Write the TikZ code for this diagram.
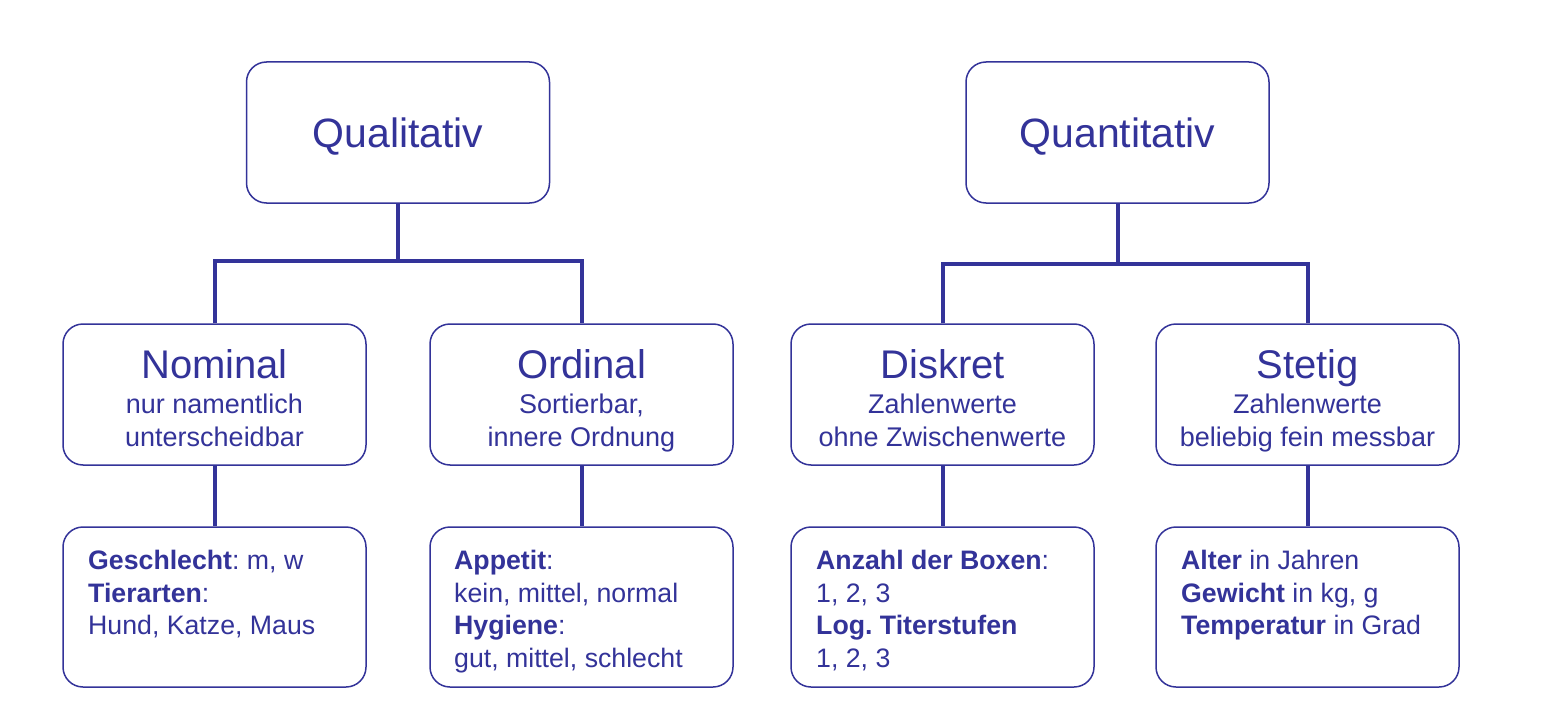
\documentclass[tikz,border=0pt]{standalone}
\usepackage{fontspec}
\setmainfont{Liberation Sans}
\frenchspacing
\definecolor{dc}{HTML}{333399}
\begin{document}
\begin{tikzpicture}[x=1pt,y=-1pt,
  box/.style={draw=dc, line width=1.5pt, rounded corners=20pt, minimum width=303pt, inner sep=0pt, text=dc, fill=white},
  topbox/.style={box, minimum height=141pt},
  midbox/.style={box, minimum height=141pt},
  midtext/.style={inner sep=0pt, align=center, text=dc, font=\fontsize{27}{32.5}\selectfont},
  exbox/.style={box, minimum height=160pt},
  extext/.style={anchor=north west, inner sep=0pt, align=left, text=dc, font=\fontsize{26.7}{32.5}\selectfont},
  conn/.style={draw=dc, line width=4pt},
  big/.style={font=\fontsize{41}{48}\selectfont}]
\useasboundingbox[fill=white] (0,0) rectangle (1559,717);

\node[topbox] (qual) at (398,132.5) {};
\node[topbox] (quan) at (1117.5,132.5) {};
\node[big, text=dc, inner sep=0pt, anchor=base] (qualt) at (398,147.5) {Qualitativ};
\node[big, text=dc, inner sep=0pt, anchor=base] (quant) at (1117.5,147.5) {Quantitativ};

\node[midbox] (nom) at (214.5,394.5) {};
\node[midbox] (ord) at (581.5,394.5) {};
\node[midbox] (dis) at (942.5,394.5) {};
\node[midbox] (ste) at (1307.5,394.5) {};

\node[midtext, anchor=north] (nomt) at (214.5,349) {{\fontsize{40}{34}\selectfont Nominal}\\[3pt] nur namentlich\\ unterscheidbar};
\node[midtext, anchor=north] (ordt) at (581.5,349) {{\fontsize{40}{34}\selectfont Ordinal}\\[3pt] Sortierbar,\\ innere Ordnung};
\node[midtext, anchor=north] (dist) at (942.5,349) {{\fontsize{40}{34}\selectfont Diskret}\\[3pt] Zahlenwerte\\ ohne Zwischenwerte};
\node[midtext, anchor=north] (stet) at (1307.5,349) {{\fontsize{40}{34}\selectfont Stetig}\\[3pt] Zahlenwerte\\ beliebig fein messbar};

\node[exbox] (nomex) at (214.5,607) {};
\node[exbox] (ordex) at (581.5,607) {};
\node[exbox] (disex) at (942.5,607) {};
\node[exbox] (steex) at (1307.5,607) {};

\node[extext] (nomx) at (88,550) {\textbf{Geschlecht}: m, w\\ \textbf{Tierarten}:\\ Hund, Katze, Maus};
\node[extext] (ordx) at (454,550) {\textbf{Appetit}:\\ kein, mittel, normal\\ \textbf{Hygiene}:\\ gut, mittel, schlecht};
\node[extext] (disx) at (816,550) {\textbf{Anzahl der Boxen}:\\ 1, 2, 3\\ \textbf{Log. Titerstufen}\\ 1, 2, 3};
\node[extext] (stex) at (1181,550) {\textbf{Alter} in Jahren\\ \textbf{Gewicht} in kg, g\\ \textbf{Temperatur} in Grad};

\draw[conn] (qual.south) -- ++(0,59);
\draw[conn] (nom.north) -- ++(0,-62) -| (ord.north);
\draw[conn] (quan.south) -- ++(0,62);
\draw[conn] (dis.north) -- ++(0,-59) -| (ste.north);

\draw[conn] (nom.south) -- (nomex.north);
\draw[conn] (ord.south) -- (ordex.north);
\draw[conn] (dis.south) -- (disex.north);
\draw[conn] (ste.south) -- (steex.north);
\end{tikzpicture}
\end{document}
